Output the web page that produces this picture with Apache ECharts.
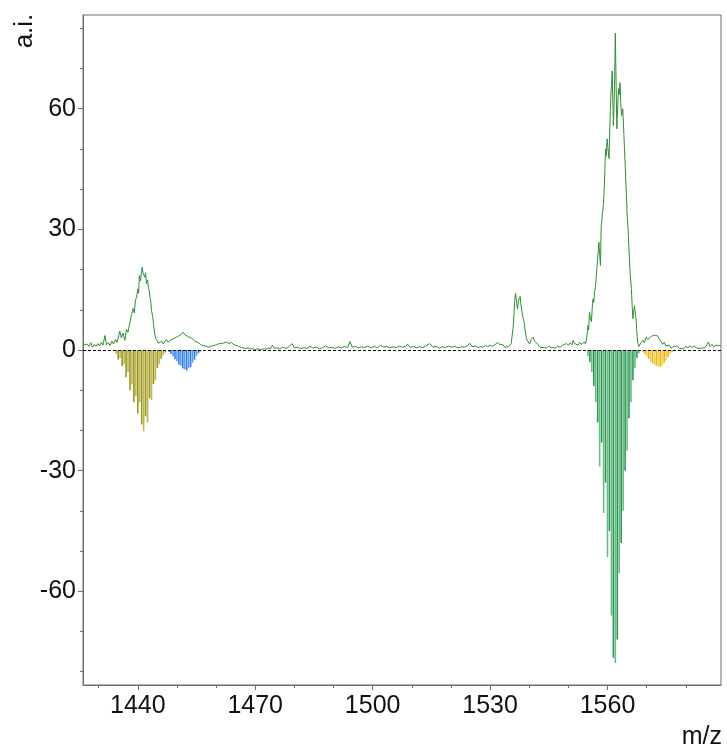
<!DOCTYPE html>
<html>
<head>
<meta charset="utf-8">
<script src="https://cdn.jsdelivr.net/npm/echarts@6/dist/echarts.min.js"></script>
<style>html,body{margin:0;padding:0;background:#fff;}#chart{width:727px;height:749px;}</style>
</head>
<body>
<div id="chart"></div>
<script>
// ---- data ----
const xMajorTicks = [1440, 1470, 1500, 1530, 1560];
const xMinorTicks = [1430, 1450, 1460, 1480, 1490, 1510, 1520, 1540, 1550, 1570, 1580];
const yMajorTicks = [-60, -30, 0, 30, 60];
const yMinorTicks = [-80, -70, -50, -40, -20, -10, 10, 20, 40, 50, 70, 80];

// measured spectrum [m/z, intensity]
const spectrum = [
[1426.0,1.2],[1426.5,0.8],[1427.0,1.5],[1427.5,0.9],[1428.0,1.8],[1428.4,0.7],[1428.9,1.4],[1429.3,0.9],
[1429.8,1.6],[1430.2,1.0],[1430.7,1.9],[1431.1,1.2],[1431.6,3.6],[1432.0,1.3],[1432.5,1.8],[1432.9,1.1],
[1433.4,2.2],[1433.8,1.5],[1434.3,2.6],[1434.7,1.9],[1435.1,3.5],[1435.4,4.7],[1435.8,3.0],[1436.2,4.2],
[1436.7,2.4],[1437.1,5.2],[1437.5,4.4],[1438.0,6.9],[1438.4,8.8],[1438.8,10.3],[1439.1,9.2],[1439.4,12.4],
[1439.7,13.1],[1440.0,15.2],[1440.2,14.1],[1440.4,18.5],[1440.7,17.2],[1441.1,20.6],[1441.4,19.0],[1441.8,18.1],
[1442.0,19.2],[1442.2,16.5],[1442.5,17.4],[1442.7,15.6],[1442.9,14.9],[1443.1,13.1],[1443.3,12.2],[1443.5,9.8],
[1443.8,8.4],[1444.0,6.6],[1444.3,4.1],[1444.6,2.9],[1445.0,2.3],[1445.3,1.7],[1445.7,1.6],[1446.1,2.2],
[1446.5,1.5],[1446.9,1.9],[1447.3,2.6],[1447.8,1.9],[1448.2,2.4],[1448.6,2.0],[1449.0,2.8],[1449.5,2.5],
[1449.9,3.2],[1450.3,2.9],[1450.8,3.7],[1451.2,3.4],[1451.6,4.4],[1452.0,3.8],[1452.4,4.1],[1452.9,3.3],
[1453.3,3.6],[1453.8,2.9],[1454.2,3.1],[1454.6,2.2],[1455.0,2.4],[1455.5,1.8],[1455.9,1.9],[1456.3,1.2],
[1456.7,1.6],[1457.2,1.0],[1457.7,1.2],[1458.2,0.7],[1458.8,1.0],[1459.3,0.7],[1459.8,1.2],[1460.3,1.1],
[1460.8,1.6],[1461.3,1.3],[1461.8,1.7],[1462.3,1.4],[1462.8,2.0],[1463.3,1.5],[1463.9,1.9],[1464.4,1.4],
[1464.9,1.5],[1465.5,1.0],[1466.0,1.1],[1466.5,0.6],[1467.0,0.8],[1467.6,0.4],[1468.2,0.5],[1468.8,0.2],
[1469.4,0.3],[1470.0,0.1],[1470.7,0.3],[1471.3,0.1],[1472.0,0.3],[1472.7,0.2],[1473.3,0.5],[1473.9,0.3],
[1474.4,1.2],[1474.9,0.4],[1475.5,0.6],[1476.2,0.3],[1477.0,0.7],[1477.8,0.4],[1478.6,0.8],[1479.4,1.6],
[1480.0,0.5],[1480.8,0.7],[1481.6,0.3],[1482.4,0.6],[1483.2,0.4],[1484.0,0.9],[1484.8,0.5],[1485.6,0.7],
[1486.4,0.3],[1487.2,0.6],[1488.0,1.0],[1488.8,0.5],[1489.6,0.7],[1490.4,0.4],[1491.2,0.8],[1492.0,0.5],
[1492.8,0.9],[1493.6,0.6],[1494.2,2.1],[1494.8,0.7],[1495.6,0.9],[1496.4,0.5],[1497.2,0.8],[1498.0,0.6],
[1498.8,1.0],[1499.6,0.5],[1500.4,0.9],[1501.2,0.6],[1502.0,1.1],[1502.8,0.7],[1503.6,0.9],[1504.4,0.5],
[1505.2,0.8],[1506.0,0.6],[1506.8,1.0],[1507.6,0.7],[1508.4,0.9],[1509.0,1.4],[1509.6,0.6],[1510.4,0.9],
[1511.2,0.5],[1512.0,0.8],[1512.8,0.6],[1513.6,1.0],[1514.6,1.6],[1515.4,0.7],[1516.2,0.9],[1517.0,0.5],
[1517.8,0.8],[1518.6,0.6],[1519.4,1.0],[1520.2,0.7],[1521.0,0.9],[1521.8,0.5],[1522.6,0.8],[1523.4,0.7],
[1524.2,1.0],[1524.8,1.7],[1525.4,0.8],[1526.2,1.0],[1527.0,0.6],[1527.6,0.9],[1528.2,0.7],[1528.8,1.1],
[1529.4,0.8],[1530.0,1.2],[1530.6,0.9],[1531.2,1.3],[1531.6,1.0],[1532.0,1.9],[1532.4,1.4],[1532.9,1.1],
[1533.3,1.3],[1533.7,0.7],[1534.2,1.0],[1534.6,0.8],[1535.0,1.2],[1535.4,1.6],[1535.9,5.7],[1536.1,8.6],
[1536.3,12.3],[1536.5,14.1],[1536.8,12.0],[1537.0,10.2],[1537.2,11.8],[1537.4,12.7],[1537.7,13.3],[1537.9,11.2],
[1538.1,9.8],[1538.4,8.1],[1538.7,6.9],[1539.0,4.6],[1539.3,2.8],[1539.7,2.1],[1540.1,1.5],[1540.5,2.6],
[1541.0,3.2],[1541.4,2.2],[1541.8,2.4],[1542.2,1.4],[1542.7,0.7],[1543.2,1.1],[1543.8,0.6],[1544.4,0.5],
[1545.0,0.9],[1545.6,0.6],[1546.1,0.8],[1546.7,0.5],[1547.3,1.0],[1547.9,0.7],[1548.5,1.2],[1549.0,0.9],
[1549.5,1.6],[1550.0,1.1],[1550.5,1.8],[1550.9,1.3],[1551.2,2.4],[1551.6,1.6],[1552.0,1.9],[1552.5,1.2],
[1552.9,1.9],[1553.3,1.4],[1553.7,1.1],[1554.1,2.0],[1554.4,1.5],[1554.6,1.5],[1554.8,3.8],[1555.0,6.1],
[1555.2,5.0],[1555.4,9.4],[1555.6,8.2],[1555.9,7.0],[1556.1,10.5],[1556.3,12.7],[1556.5,11.8],[1556.7,14.4],
[1556.9,15.6],[1557.1,17.7],[1557.3,20.5],[1557.6,24.3],[1557.8,26.8],[1558.0,23.9],[1558.2,21.0],[1558.4,30.9],
[1558.7,33.8],[1559.0,36.7],[1559.2,41.0],[1559.5,50.0],[1559.7,48.2],[1559.9,52.5],[1560.1,50.3],[1560.4,47.6],
[1560.6,55.4],[1560.8,61.6],[1561.0,65.8],[1561.2,69.4],[1561.4,60.2],[1561.5,55.8],[1561.7,62.0],[1561.8,65.7],
[1562.0,78.8],[1562.2,66.4],[1562.4,55.0],[1562.6,60.1],[1562.8,65.0],[1563.0,63.5],[1563.2,66.5],[1563.4,61.2],
[1563.6,58.3],[1563.9,60.0],[1564.2,53.3],[1564.5,46.4],[1564.8,39.2],[1565.0,34.1],[1565.3,29.3],[1565.6,22.7],
[1565.8,18.9],[1566.1,15.3],[1566.3,11.0],[1566.5,7.8],[1566.7,9.6],[1566.9,11.0],[1567.1,9.2],[1567.3,7.8],
[1567.5,4.3],[1567.7,1.9],[1568.0,0.9],[1568.2,0.7],[1568.6,1.8],[1569.0,2.4],[1569.4,1.8],[1569.9,3.2],
[1570.3,2.6],[1570.7,2.9],[1571.2,3.4],[1571.6,3.1],[1572.0,3.7],[1572.4,3.3],[1572.8,3.5],[1573.3,2.7],
[1573.7,2.3],[1574.1,1.4],[1574.5,1.9],[1574.9,1.0],[1575.4,0.6],[1575.8,1.2],[1576.3,0.4],[1576.8,0.9],
[1577.3,0.5],[1577.8,1.0],[1578.4,0.4],[1578.9,0.8],[1579.5,0.3],[1580.0,0.9],[1580.6,0.5],[1581.1,1.1],
[1581.6,0.6],[1582.2,1.0],[1582.7,0.5],[1583.2,0.9],[1583.8,0.4],[1584.3,0.8],[1584.9,0.6],[1585.4,1.3],
[1585.8,2.0],[1586.2,0.9],[1586.7,1.4],[1587.2,0.7],[1587.7,1.2],[1588.2,0.8],[1588.7,1.1],[1589.0,0.9]
];

// simulated isotope patterns (negative sticks) [m/z, intensity]
const oliveSticks = [
[1434.5,-1.0],[1435.0,-2.4],[1435.5,-2.0],[1436.0,-4.0],[1436.5,-3.5],[1437.0,-6.8],[1437.5,-5.5],
[1438.0,-10.0],[1438.5,-8.5],[1439.0,-13.0],[1439.5,-11.5],[1440.0,-15.8],[1440.5,-13.0],[1441.0,-18.5],
[1441.5,-20.2],[1442.0,-16.5],[1442.5,-18.0],[1443.0,-12.0],[1443.5,-12.5],[1444.0,-8.5],[1444.5,-7.5],
[1445.0,-4.5],[1445.5,-3.5],[1446.0,-2.2],[1446.5,-1.2],[1447.0,-0.6]
];
const blueSticks = [
[1448.0,-0.5],[1448.5,-1.0],[1449.0,-1.6],[1449.5,-2.3],[1450.0,-2.8],[1450.5,-3.6],[1451.0,-3.9],
[1451.5,-4.6],[1452.0,-4.8],[1452.5,-5.1],[1453.0,-4.5],[1453.5,-4.2],[1454.0,-3.2],[1454.5,-2.4],
[1455.0,-1.5],[1455.5,-0.8],[1456.0,-0.4]
];
const greenSticks = [
[1555.0,-1.5],[1555.5,-3.0],[1556.0,-5.5],[1556.5,-9.0],[1557.0,-13.0],[1557.5,-18.0],[1558.0,-29.0],
[1558.5,-23.0],[1559.0,-40.5],[1559.5,-33.0],[1560.0,-51.5],[1560.5,-45.0],[1561.0,-66.0],[1561.5,-76.5],
[1562.0,-77.8],[1562.5,-72.0],[1563.0,-55.5],[1563.5,-48.0],[1564.0,-40.0],[1564.5,-30.0],[1565.0,-25.0],
[1565.5,-17.0],[1566.0,-13.0],[1566.5,-7.5],[1567.0,-4.5],[1567.5,-2.0],[1568.0,-0.8]
];
const yellowSticks = [
[1569.0,-0.5],[1569.5,-1.0],[1570.0,-1.6],[1570.5,-2.2],[1571.0,-2.8],[1571.5,-3.3],[1572.0,-3.7],
[1572.5,-3.9],[1573.0,-4.1],[1573.5,-4.2],[1574.0,-3.8],[1574.5,-3.2],[1575.0,-2.5],[1575.5,-1.8],
[1576.0,-1.0],[1576.5,-0.5],[1577.0,-0.3]
];

// ---- chart ----
const FONT = 'Liberation Sans, Arial, sans-serif';
const AXIS_COLOR = '#6e6e6e';
const X_MIN = 1426, X_MAX = 1589, Y_MIN = -83.3, Y_MAX = 83.3;

function sticks(name, data, light, dark) {
  return {
    name: name, type: 'bar', xAxisIndex: 0, yAxisIndex: 0,
    barWidth: 1.6, barGap: '-100%', z: 2,
    data: data.map((d, i) => ({ value: d, itemStyle: { color: i % 2 ? dark : light } }))
  };
}

const chart = echarts.init(document.getElementById('chart'), null, { renderer: 'canvas' });
const option = {
  animation: false,
  backgroundColor: '#fff',
  grid: { left: 83, right: 6, top: 15, bottom: 64, show: true, borderColor: AXIS_COLOR, borderWidth: 1, backgroundColor: 'transparent' },
  xAxis: [
    { type: 'value', min: X_MIN, max: X_MAX, position: 'bottom',
      axisLine: { show: true, onZero: false, lineStyle: { color: AXIS_COLOR } },
      axisTick: { show: true, customValues: xMajorTicks, length: 5, lineStyle: { color: AXIS_COLOR } },
      axisLabel: { customValues: xMajorTicks, formatter: v => String(v), fontSize: 25, fontFamily: FONT, color: '#111', margin: 9 },
      splitLine: { show: false } },
    { type: 'value', min: X_MIN, max: X_MAX, position: 'bottom',
      axisLine: { show: false, onZero: false },
      axisTick: { show: true, customValues: xMinorTicks, length: 3, lineStyle: { color: AXIS_COLOR } },
      axisLabel: { show: false }, splitLine: { show: false } }
  ],
  yAxis: [
    { type: 'value', min: Y_MIN, max: Y_MAX, position: 'left',
      axisLine: { show: true, onZero: false, lineStyle: { color: AXIS_COLOR } },
      axisTick: { show: true, customValues: yMajorTicks, length: 5, lineStyle: { color: AXIS_COLOR } },
      axisLabel: { customValues: yMajorTicks, formatter: v => String(v), fontSize: 25, fontFamily: FONT, color: '#111', margin: 7 },
      splitLine: { show: false } },
    { type: 'value', min: Y_MIN, max: Y_MAX, position: 'left',
      axisLine: { show: false, onZero: false },
      axisTick: { show: true, customValues: yMinorTicks, length: 3, lineStyle: { color: AXIS_COLOR } },
      axisLabel: { show: false }, splitLine: { show: false } }
  ],
  series: [
    sticks('olive', oliveSticks, '#bdb752', '#9a941e'),
    sticks('blue', blueSticks, '#5a9df2', '#2f7de6'),
    sticks('green', greenSticks, '#64bd84', '#2e9652'),
    sticks('yellow', yellowSticks, '#f4cc45', '#e6b60e'),
    { name: 'spectrum', type: 'line', xAxisIndex: 0, yAxisIndex: 0, data: spectrum,
      showSymbol: false, symbol: 'none', z: 3,
      lineStyle: { color: '#2f8f35', width: 1 },
      markLine: { silent: true, symbol: 'none', label: { show: false },
        lineStyle: { color: '#000', type: [3, 2], width: 1 },
        data: [{ yAxis: 0 }] } }
  ],
  graphic: [
    { type: 'text', x: 25, y: 31, rotation: Math.PI / 2,
      style: { text: 'a.i.', font: '26px ' + FONT, fill: '#111', textAlign: 'center', textVerticalAlign: 'middle' } },
    { type: 'text', x: 722, y: 737,
      style: { text: 'm/z', font: '25px ' + FONT, fill: '#111', textAlign: 'right', textVerticalAlign: 'middle' } }
  ]
};
chart.setOption(option);
</script>
</body>
</html>
